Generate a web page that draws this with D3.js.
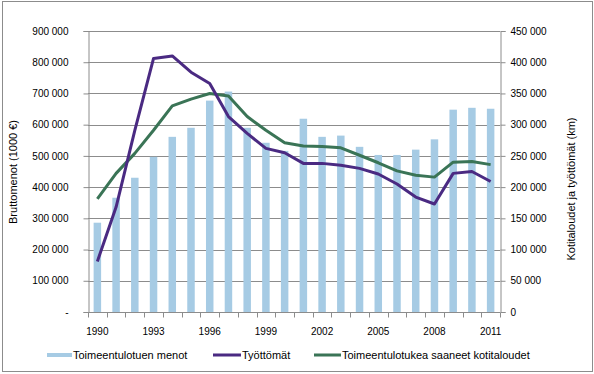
<!DOCTYPE html>
<html>
<head>
<meta charset="utf-8">
<script src="https://cdn.jsdelivr.net/npm/d3@7"></script>
<style>
  body { margin: 0; background: #fff; }
  svg { font-family: "Liberation Sans", Arial, sans-serif; font-size: 10px; }
</style>
</head>
<body>
<div id="chart"></div>
<script>
// years on the x axis
var years = [1990, 1991, 1992, 1993, 1994, 1995, 1996, 1997, 1998, 1999, 2000,
  2001, 2002, 2003, 2004, 2005, 2006, 2007, 2008, 2009, 2010, 2011];
// Toimeentulotuen menot (1000 €), left axis
var menot = [286000, 366000, 430000, 497000, 561000, 590000, 677000, 706000, 590000, 542000, 516000,
  619000, 561000, 565000, 529000, 503000, 503000, 520000, 553000, 648000, 654000, 651000];
// Työttömät, right axis
var tyottomat = [81000, 168000, 291000, 406000, 410000, 384000, 366000, 313000, 286000, 262000, 255000,
  238000, 238000, 235000, 230000, 221000, 205000, 184000, 173000, 222000, 225000, 209000];
// Toimeentulotukea saaneet kotitaloudet, right axis
var kotitaloudet = [181000, 222000, 254000, 291000, 330000, 341000, 350000, 346000, 313000, 291000, 271000,
  266000, 265000, 263000, 251000, 239000, 226000, 219000, 216000, 240000, 241000, 236000];
var leftTicks = [0, 100000, 200000, 300000, 400000, 500000, 600000, 700000, 800000, 900000];
var rightTicks = [0, 50000, 100000, 150000, 200000, 250000, 300000, 350000, 400000, 450000];
var yearLabels = [1990, 1993, 1996, 1999, 2002, 2005, 2008, 2011];

var width = 594, height = 374;
var plot = { left: 88, right: 500, top: 31, bottom: 312 };

var fmt = function (v) {
  if (v === 0) return "-";
  return d3.format(",")(v).replace(/,/g, "\u00a0");
};

var svg = d3.select("#chart").append("svg")
  .attr("width", width)
  .attr("height", height);

svg.append("rect")
  .attr("x", 2.5).attr("y", 1.5)
  .attr("width", 590).attr("height", 370)
  .attr("fill", "#fff")
  .attr("stroke", "#8c8c8c");

var x = d3.scaleBand().domain(years).range([plot.left, plot.right]).paddingInner(0).paddingOuter(0);
var yL = d3.scaleLinear().domain([0, 900000]).range([plot.bottom, plot.top]);
var yR = d3.scaleLinear().domain([0, 450000]).range([plot.bottom, plot.top]);

// gridlines
svg.append("g")
  .selectAll("line")
  .data(leftTicks.slice(1))
  .enter()
  .append("line")
  .attr("x1", plot.left).attr("x2", plot.right)
  .attr("y1", function (d) { return Math.round(yL(d)) + 0.5; })
  .attr("y2", function (d) { return Math.round(yL(d)) + 0.5; })
  .attr("stroke", "#8c8c8c");

// bars
var barW = x.bandwidth() * 0.4;
svg.append("g")
  .selectAll("rect")
  .data(years)
  .enter()
  .append("rect")
  .attr("x", function (d) { return x(d) + (x.bandwidth() - barW) / 2; })
  .attr("y", function (d, i) { return yL(menot[i]); })
  .attr("width", barW)
  .attr("height", function (d, i) { return plot.bottom - yL(menot[i]); })
  .attr("fill", "#a6cbe4");

// axes
var leftAxis = svg.append("g")
  .attr("transform", "translate(" + (plot.left + 0.5) + ",0)")
  .call(d3.axisLeft(yL).tickValues(leftTicks).tickFormat(fmt).tickSize(5).tickPadding(15));
var rightAxis = svg.append("g")
  .attr("transform", "translate(" + (plot.right + 0.5) + ",0)")
  .call(d3.axisRight(yR).tickValues(rightTicks).tickFormat(function (v) {
    return d3.format(",")(v).replace(/,/g, "\u00a0");
  }).tickSize(5).tickPadding(5));

var xTickPos = years.map(function (d) { return x(d); }).concat([plot.right]);
var bottom = svg.append("g").attr("transform", "translate(0," + (plot.bottom + 0.5) + ")");
bottom.append("line")
  .attr("x1", plot.left).attr("x2", plot.right)
  .attr("stroke", "#8c8c8c");
bottom.selectAll(".xt")
  .data(xTickPos)
  .enter()
  .append("line")
  .attr("x1", function (d) { return Math.round(d) + 0.5; })
  .attr("x2", function (d) { return Math.round(d) + 0.5; })
  .attr("y1", 0).attr("y2", 5)
  .attr("stroke", "#8c8c8c");
bottom.selectAll("text")
  .data(yearLabels)
  .enter()
  .append("text")
  .attr("x", function (d) { return x(d) + x.bandwidth() / 2; })
  .attr("y", 22)
  .attr("text-anchor", "middle")
  .attr("fill", "#000")
  .text(function (d) { return d; });

[leftAxis, rightAxis].forEach(function (g) {
  g.select(".domain").attr("stroke", "#8c8c8c");
  g.selectAll(".tick line").attr("stroke", "#8c8c8c");
  g.selectAll(".tick text").attr("fill", "#000").style("font-size", "10px").style("font-family", "Liberation Sans, Arial, sans-serif");
});

// lines
var lineR = function (vals) {
  return d3.line()
    .x(function (d, i) { return x(years[i]) + x.bandwidth() / 2; })
    .y(function (d) { return yR(d); })(vals);
};
svg.append("path")
  .attr("d", lineR(kotitaloudet))
  .attr("fill", "none")
  .attr("stroke", "#3a7456")
  .attr("stroke-width", 3)
  .attr("stroke-linejoin", "round");
svg.append("path")
  .attr("d", lineR(tyottomat))
  .attr("fill", "none")
  .attr("stroke", "#4a2a82")
  .attr("stroke-width", 3)
  .attr("stroke-linejoin", "round");

// axis titles
svg.append("text")
  .attr("transform", "translate(13,172) rotate(-90)")
  .attr("text-anchor", "middle")
  .attr("dy", "0.35em")
  .style("font-size", "11px")
  .text("Bruttomenot (1000 €)");
svg.append("text")
  .attr("transform", "translate(571,189) rotate(-90)")
  .attr("text-anchor", "middle")
  .attr("dy", "0.35em")
  .style("font-size", "11px")
  .text("Kotitaloudet ja työttömät (km)");

// legend
var legend = [
  { name: "Toimeentulotuen menot", color: "#a6cbe4", x: 47, w: 25, h: 4 },
  { name: "Työttömät", color: "#4a2a82", x: 213, w: 28, h: 3 },
  { name: "Toimeentulotukea saaneet kotitaloudet", color: "#3a7456", x: 314, w: 27, h: 3 }
];
var lg = svg.append("g").attr("transform", "translate(0,355)").style("font-size", "11px");
legend.forEach(function (d) {
  lg.append("rect")
    .attr("x", d.x).attr("y", -d.h / 2)
    .attr("width", d.w).attr("height", d.h)
    .attr("fill", d.color);
  lg.append("text")
    .attr("x", d.x + d.w + 1)
    .attr("dy", "0.35em")
    .text(d.name);
});
</script>
</body>
</html>
